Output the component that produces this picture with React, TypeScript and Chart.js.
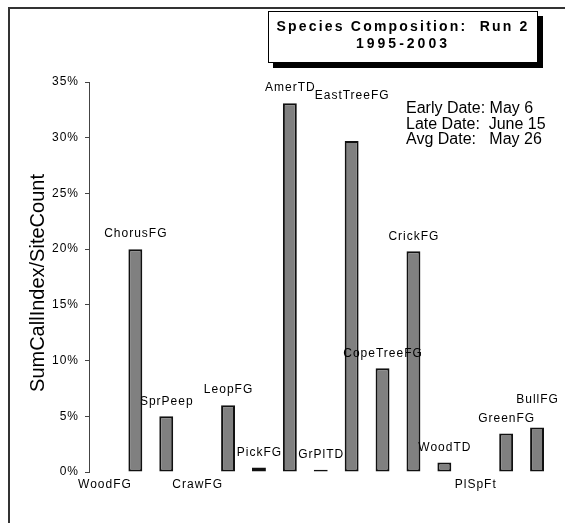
import React, { useEffect, useRef } from "react";
import { Chart, registerables } from "chart.js";

Chart.register(...registerables);

// ---- data ----
const categories = [
  "WoodFG", "ChorusFG", "SprPeep", "CrawFG", "LeopFG", "PickFG", "AmerTD", "GrPlTD",
  "EastTreeFG", "CopeTreeFG", "CrickFG", "WoodTD", "PlSpFt", "GreenFG", "BullFG",
];
const values = [0, 20.0, 5.0, 0, 6.0, 0.4, 33.1, 0.2, 29.7, 9.3, 19.8, 0.85, 0, 3.45, 4.0];
const yTicks = [0, 5, 10, 15, 20, 25, 30, 35];
const titleLines = ["Species Composition:  Run 2", "1995-2003"];
const dateLines = ["Early Date: May 6", "Late Date:  June 15", "Avg Date:   May 26"];
const yAxisTitle = "SumCallIndex/SiteCount";

// extra lift (style) for a few labels that sit higher in the original
const labelLift: Record<string, number> = { EastTreeFG: 30, BullFG: 13 };

const FONT = 'Arial, "Liberation Sans", sans-serif';

const spacingPlugin = {
  id: "spacing",
  beforeDraw(chart: any) {
    (chart.ctx as any).letterSpacing = "1px";
  },
};

const labelPlugin = {
  id: "barLabels",
  afterDatasetsDraw(chart: any) {
    const ctx = chart.ctx as CanvasRenderingContext2D;
    const meta = chart.getDatasetMeta(0);
    const base = chart.scales.y.getPixelForValue(0);
    ctx.save();
    ctx.font = `12px ${FONT}`;
    (ctx as any).letterSpacing = "1px";
    ctx.fillStyle = "#000";
    ctx.textAlign = "center";
    ctx.textBaseline = "middle";
    meta.data.forEach((bar: any, i: number) => {
      const v = values[i];
      const lift = labelLift[categories[i]] ?? 0;
      const y = v > 0 ? bar.y - 15 - lift : base + 13;
      ctx.fillText(categories[i], bar.x + 0.5, y);
    });
    ctx.restore();
  },
  afterDraw(chart: any) {
    const ctx = chart.ctx as CanvasRenderingContext2D;
    ctx.save();
    (ctx as any).letterSpacing = "0px";
    ctx.font = `20px ${FONT}`;
    ctx.fillStyle = "#000";
    ctx.textAlign = "center";
    ctx.textBaseline = "middle";
    ctx.translate(38, 283);
    ctx.rotate(-Math.PI / 2);
    ctx.fillText(yAxisTitle, 0, 0);
    ctx.restore();
  },
};

export default function App() {
  const ref = useRef<HTMLCanvasElement>(null);

  useEffect(() => {
    if (!ref.current) return;
    const chart = new Chart(ref.current, {
      type: "bar",
      data: {
        labels: categories,
        datasets: [
          {
            data: values,
            backgroundColor: "#808080",
            borderColor: "#111",
            borderWidth: 2,
            borderSkipped: false,
            categoryPercentage: 1,
            barPercentage: 0.45,
          },
        ],
      },
      options: {
        animation: false,
        responsive: false,
        devicePixelRatio: 1,
        layout: { padding: { left: 0, top: 82, right: 12.5, bottom: 51 } },
        plugins: {
          legend: { display: false },
          tooltip: { enabled: false },
          title: { display: false },
        },
        scales: {
          x: { display: false, grid: { display: false } },
          y: {
            min: 0,
            max: 35,
            afterBuildTicks: (s: any) => {
              s.ticks = yTicks.map((v) => ({ value: v }));
            },
            afterFit: (s: any) => {
              s.width = 89;
            },
            ticks: {
              callback: (v: any) => `${v}%`,
              font: { family: FONT, size: 12 },
              color: "#000",
              padding: 6,
            },
            grid: {
              drawOnChartArea: false,
              drawTicks: true,
              tickLength: 4,
              color: "#444",
            },
            border: { display: true, color: "#444", width: 1 },
          },
        },
      },
      plugins: [spacingPlugin, labelPlugin],
    });
    return () => chart.destroy();
  }, []);

  return (
    <div
      style={{
        position: "fixed",
        left: 0,
        top: 0,
        width: 565,
        height: 523,
        overflow: "hidden",
        background: "#fff",
        fontFamily: FONT,
      }}
    >
      <div
        style={{
          position: "absolute",
          left: 8,
          top: 7,
          width: 700,
          height: 700,
          borderLeft: "2px solid #333",
          borderTop: "2px solid #333",
        }}
      />
      <canvas
        ref={ref}
        width={565}
        height={523}
        style={{ position: "absolute", left: 0, top: 0, width: 565, height: 523 }}
      />
      <div
        style={{
          position: "absolute",
          left: 268,
          top: 11,
          width: 270,
          height: 52,
          boxSizing: "border-box",
          border: "1.5px solid #000",
          boxShadow: "5px 5px 0 #000",
          background: "#fff",
        }}
      >
        {titleLines.map((t, i) => (
          <div
            key={i}
            style={{
              position: "absolute",
              left: 0,
              right: 0,
              top: 6 + i * 16.6,
              height: 17,
              lineHeight: "17px",
              textAlign: "center",
              fontWeight: "bold",
              fontSize: 14,
              letterSpacing: i === 0 ? "2.2px" : "3px",
              whiteSpace: "pre",
              color: "#000",
            }}
          >
            {t}
          </div>
        ))}
      </div>
      <div style={{ position: "absolute", left: 406, top: 100 }}>
        {dateLines.map((t, i) => (
          <div
            key={i}
            style={{
              height: 15.7,
              lineHeight: "15.7px",
              fontSize: 16,
              whiteSpace: "pre",
              color: "#000",
            }}
          >
            {t}
          </div>
        ))}
      </div>
    </div>
  );
}
